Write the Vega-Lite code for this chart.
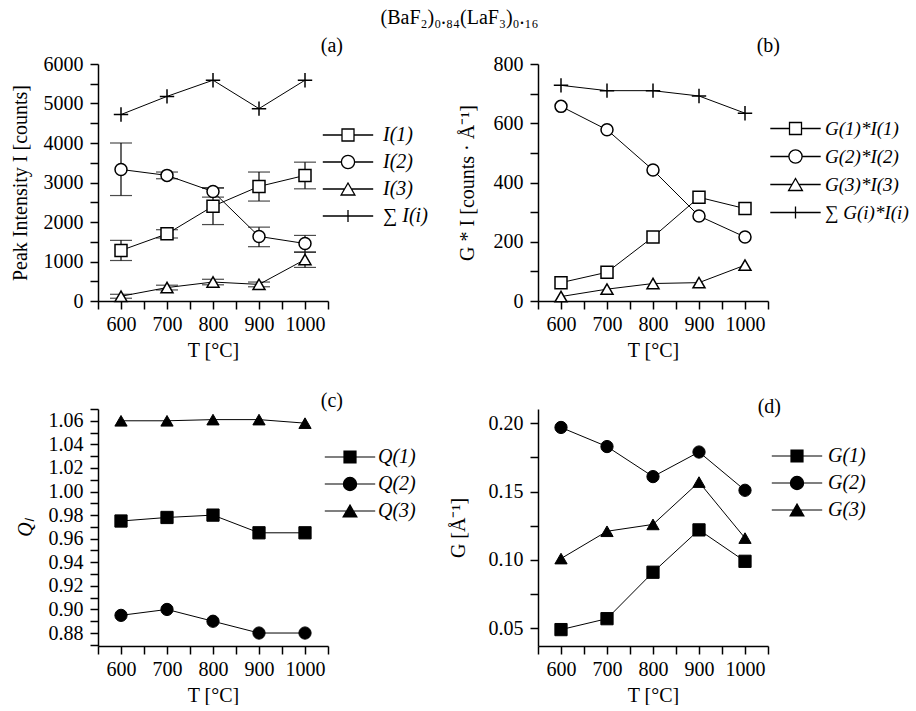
{
  "$schema": "https://vega.github.io/schema/vega-lite/v6.json",
  "background": "white",
  "padding": {"left": 10, "top": 8, "right": 0, "bottom": 0},
  "title": {"text": "(BaF₂)₀.₈₄(LaF₃)₀.₁₆", "anchor": "middle", "fontSize": 20, "offset": 8},
  "bounds": "flush",
  "columns": 2,
  "spacing": {"row": 108, "column": 210},
  "resolve": {"scale": {"x": "independent", "y": "independent", "shape": "independent"}, "legend": {"shape": "independent"}},
  "concat": [
    {
      "width": 230, "height": 237,
      "title": {"text": "(a)", "anchor": "end", "frame": "group", "dx": 15, "offset": -2},
      "data": {"values": [
        {"T": 600, "s": "I(1)", "v": 1280, "lo": 1025, "hi": 1535},
        {"T": 700, "s": "I(1)", "v": 1700, "lo": 1595, "hi": 1805},
        {"T": 800, "s": "I(1)", "v": 2400, "lo": 1935, "hi": 2865},
        {"T": 900, "s": "I(1)", "v": 2900, "lo": 2530, "hi": 3265},
        {"T": 1000, "s": "I(1)", "v": 3180, "lo": 2840, "hi": 3515},
        {"T": 600, "s": "I(2)", "v": 3330, "lo": 2670, "hi": 4000},
        {"T": 700, "s": "I(2)", "v": 3180, "lo": 3095, "hi": 3265},
        {"T": 800, "s": "I(2)", "v": 2770, "lo": 2630, "hi": 2860},
        {"T": 900, "s": "I(2)", "v": 1635, "lo": 1375, "hi": 1870},
        {"T": 1000, "s": "I(2)", "v": 1455, "lo": 1240, "hi": 1660},
        {"T": 600, "s": "I(3)", "v": 120, "lo": 70, "hi": 170},
        {"T": 700, "s": "I(3)", "v": 340, "lo": 280, "hi": 400},
        {"T": 800, "s": "I(3)", "v": 480, "lo": 410, "hi": 550},
        {"T": 900, "s": "I(3)", "v": 420, "lo": 360, "hi": 480},
        {"T": 1000, "s": "I(3)", "v": 1050, "lo": 850, "hi": 1235},
        {"T": 600, "s": "∑ I(i)", "v": 4720},
        {"T": 700, "s": "∑ I(i)", "v": 5180},
        {"T": 800, "s": "∑ I(i)", "v": 5590},
        {"T": 900, "s": "∑ I(i)", "v": 4870},
        {"T": 1000, "s": "∑ I(i)", "v": 5590}
      ]},
      "encoding": {
        "x": {"field": "T", "type": "quantitative", "scale": {"domain": [550, 1050], "nice": false, "zero": false},
              "axis": {"title": "T [°C]", "values": [550, 600, 650, 700, 750, 800, 850, 900, 950, 1000, 1050], "labelExpr": "datum.value % 100 == 0 ? datum.label : ''", "format": "d", "labelOverlap": false, "labelFlush": false}},
        "y": {"field": "v", "type": "quantitative", "title": "Peak Intensity I [counts]", "scale": {"domain": [0, 6000], "nice": false, "zero": false},
              "axis": {"values": [0, 500, 1000, 1500, 2000, 2500, 3000, 3500, 4000, 4500, 5000, 5500, 6000], "labelExpr": "datum.value % 1000 == 0 ? datum.label : ''", "format": "d", "labelOverlap": false, "labelPadding": 7, "titlePadding": 13}}
      },
      "resolve": {"scale": {"shape": "independent"}, "legend": {"shape": "independent"}},
      "layer": [
        {"mark": {"type": "line", "color": "black", "strokeWidth": 1}, "encoding": {"detail": {"field": "s"}}},
        {"transform": [{"filter": "isValid(datum.lo)"}], "mark": {"type": "rule", "color": "black", "strokeWidth": 1.2},
         "encoding": {"y": {"field": "lo", "type": "quantitative", "title": "Peak Intensity I [counts]"}, "y2": {"field": "hi"}}},
        {"transform": [{"filter": "isValid(datum.lo)"}], "mark": {"type": "tick", "orient": "horizontal", "color": "black", "thickness": 1.2, "size": 22},
         "encoding": {"y": {"field": "lo", "type": "quantitative", "title": "Peak Intensity I [counts]"}}},
        {"transform": [{"filter": "isValid(datum.lo)"}], "mark": {"type": "tick", "orient": "horizontal", "color": "black", "thickness": 1.2, "size": 22},
         "encoding": {"y": {"field": "hi", "type": "quantitative", "title": "Peak Intensity I [counts]"}}},
        {"mark": {"type": "point", "filled": true, "fill": "white", "stroke": "black", "strokeWidth": 1.5, "size": 144, "opacity": 1},
         "encoding": {"shape": {"field": "s", "type": "nominal",
           "scale": {"domain": ["I(1)", "I(2)", "I(3)", "∑ I(i)"], "range": ["square", "circle", "triangle-up", "M-1.2,0H1.2M0,-1.2V1.2"]},
           "legend": null}}},
        {"transform": [{"filter": "false"}],
         "mark": {"type": "point", "filled": true, "fill": "white", "stroke": "black", "strokeWidth": 1.3, "size": 144, "opacity": 1},
         "encoding": {"shape": {"field": "s", "type": "nominal",
           "scale": {"domain": ["I(1)", "I(2)", "I(3)", "∑ I(i)"], "range": ["M-4.2,0H-1M1,0H4.2M-1,-1H1V1H-1Z", "M-4.2,0H-1.1M1.1,0H4.2M-1.1,0A1.1,1.1,0,1,1,1.1,0A1.1,1.1,0,1,1,-1.1,0Z", "M-4.2,0H-0.6M0.6,0H4.2M0,-1L-1.15,1H1.15Z", "M-4.2,0H4.2M0,-1V1"]},
           "legend": {"title": null, "orient": "none", "legendX": 240, "legendY": 61, "labelOffset": 25, "rowPadding": 7, "symbolSize": 144, "symbolStrokeWidth": 1.3, "symbolOpacity": 1}}}}
      ]
    },
    {
      "width": 230, "height": 237,
      "title": {"text": "(b)", "anchor": "end", "frame": "group", "dx": 12, "offset": -2},
      "data": {"values": [
        {"T": 600, "s": "G(1)*I(1)", "v": 62},
        {"T": 700, "s": "G(1)*I(1)", "v": 97},
        {"T": 800, "s": "G(1)*I(1)", "v": 216},
        {"T": 900, "s": "G(1)*I(1)", "v": 350},
        {"T": 1000, "s": "G(1)*I(1)", "v": 312},
        {"T": 600, "s": "G(2)*I(2)", "v": 657},
        {"T": 700, "s": "G(2)*I(2)", "v": 578},
        {"T": 800, "s": "G(2)*I(2)", "v": 442},
        {"T": 900, "s": "G(2)*I(2)", "v": 287},
        {"T": 1000, "s": "G(2)*I(2)", "v": 216},
        {"T": 600, "s": "G(3)*I(3)", "v": 15},
        {"T": 700, "s": "G(3)*I(3)", "v": 40},
        {"T": 800, "s": "G(3)*I(3)", "v": 59},
        {"T": 900, "s": "G(3)*I(3)", "v": 62},
        {"T": 1000, "s": "G(3)*I(3)", "v": 121},
        {"T": 600, "s": "∑ G(i)*I(i)", "v": 728},
        {"T": 700, "s": "∑ G(i)*I(i)", "v": 710},
        {"T": 800, "s": "∑ G(i)*I(i)", "v": 710},
        {"T": 900, "s": "∑ G(i)*I(i)", "v": 692},
        {"T": 1000, "s": "∑ G(i)*I(i)", "v": 634}
      ]},
      "encoding": {
        "x": {"field": "T", "type": "quantitative", "scale": {"domain": [550, 1050], "nice": false, "zero": false},
              "axis": {"title": "T [°C]", "values": [550, 600, 650, 700, 750, 800, 850, 900, 950, 1000, 1050], "labelExpr": "datum.value % 100 == 0 ? datum.label : ''", "format": "d", "labelOverlap": false, "labelFlush": false}},
        "y": {"field": "v", "type": "quantitative", "title": "G * I  [counts · Å⁻¹]", "scale": {"domain": [0, 800], "nice": false, "zero": false},
              "axis": {"values": [0, 100, 200, 300, 400, 500, 600, 700, 800], "labelExpr": "datum.value % 200 == 0 ? datum.label : ''", "format": "d", "labelOverlap": false, "labelPadding": 7, "titlePadding": 16}}
      },
      "resolve": {"scale": {"shape": "independent"}, "legend": {"shape": "independent"}},
      "layer": [
        {"mark": {"type": "line", "color": "black", "strokeWidth": 1}, "encoding": {"detail": {"field": "s"}}},
        {"mark": {"type": "point", "filled": true, "fill": "white", "stroke": "black", "strokeWidth": 1.5, "size": 144, "opacity": 1},
         "encoding": {"shape": {"field": "s", "type": "nominal",
           "scale": {"domain": ["G(1)*I(1)", "G(2)*I(2)", "G(3)*I(3)", "∑ G(i)*I(i)"], "range": ["square", "circle", "triangle-up", "M-1.2,0H1.2M0,-1.2V1.2"]},
           "legend": null}}},
        {"transform": [{"filter": "false"}],
         "mark": {"type": "point", "filled": true, "fill": "white", "stroke": "black", "strokeWidth": 1.3, "size": 144, "opacity": 1},
         "encoding": {"shape": {"field": "s", "type": "nominal",
           "scale": {"domain": ["G(1)*I(1)", "G(2)*I(2)", "G(3)*I(3)", "∑ G(i)*I(i)"], "range": ["M-4.2,0H-1M1,0H4.2M-1,-1H1V1H-1Z", "M-4.2,0H-1.1M1.1,0H4.2M-1.1,0A1.1,1.1,0,1,1,1.1,0A1.1,1.1,0,1,1,-1.1,0Z", "M-4.2,0H-0.6M0.6,0H4.2M0,-1L-1.15,1H1.15Z", "M-4.2,0H4.2M0,-1V1"]},
           "legend": {"title": null, "orient": "none", "legendX": 248, "legendY": 55, "labelOffset": 20, "labelFontSize": 19, "rowPadding": 8, "symbolSize": 144, "symbolStrokeWidth": 1.3, "symbolOpacity": 1}}}}
      ]
    },
    {
      "width": 230, "height": 237,
      "title": {"text": "(c)", "anchor": "end", "frame": "group", "dx": 15, "offset": -12},
      "data": {"values": [
        {"T": 600, "s": "Q(1)", "v": 0.975},
        {"T": 700, "s": "Q(1)", "v": 0.978},
        {"T": 800, "s": "Q(1)", "v": 0.980},
        {"T": 900, "s": "Q(1)", "v": 0.965},
        {"T": 1000, "s": "Q(1)", "v": 0.965},
        {"T": 600, "s": "Q(2)", "v": 0.895},
        {"T": 700, "s": "Q(2)", "v": 0.900},
        {"T": 800, "s": "Q(2)", "v": 0.890},
        {"T": 900, "s": "Q(2)", "v": 0.880},
        {"T": 1000, "s": "Q(2)", "v": 0.880},
        {"T": 600, "s": "Q(3)", "v": 1.060},
        {"T": 700, "s": "Q(3)", "v": 1.060},
        {"T": 800, "s": "Q(3)", "v": 1.061},
        {"T": 900, "s": "Q(3)", "v": 1.061},
        {"T": 1000, "s": "Q(3)", "v": 1.058}
      ]},
      "encoding": {
        "x": {"field": "T", "type": "quantitative", "scale": {"domain": [550, 1050], "nice": false, "zero": false},
              "axis": {"title": "T [°C]", "values": [550, 600, 650, 700, 750, 800, 850, 900, 950, 1000, 1050], "labelExpr": "datum.value % 100 == 0 ? datum.label : ''", "format": "d", "labelOverlap": false, "labelFlush": false}},
        "y": {"field": "v", "type": "quantitative", "title": "Qₗ", "scale": {"domain": [0.869, 1.07], "nice": false, "zero": false},
              "axis": {"values": [0.87, 0.88, 0.89, 0.9, 0.91, 0.92, 0.93, 0.94, 0.95, 0.96, 0.97, 0.98, 0.99, 1.0, 1.01, 1.02, 1.03, 1.04, 1.05, 1.06, 1.07], "labelExpr": "round(datum.value * 100) % 2 == 0 ? format(datum.value, '.2f') : ''", "labelOverlap": false, "titleFontStyle": "italic", "labelPadding": 7, "titlePadding": 13}}
      },
      "resolve": {"scale": {"shape": "independent"}, "legend": {"shape": "independent"}},
      "layer": [
        {"mark": {"type": "line", "color": "black", "strokeWidth": 1}, "encoding": {"detail": {"field": "s"}}},
        {"mark": {"type": "point", "filled": true, "fill": "black", "stroke": "black", "strokeWidth": 1, "size": 150, "opacity": 1},
         "encoding": {"shape": {"field": "s", "type": "nominal",
           "scale": {"domain": ["Q(1)", "Q(2)", "Q(3)"], "range": ["square", "circle", "triangle-up"]},
           "legend": null}}},
        {"transform": [{"filter": "false"}],
         "mark": {"type": "point", "filled": true, "fill": "black", "stroke": "black", "strokeWidth": 1.2, "size": 144, "opacity": 1},
         "encoding": {"shape": {"field": "s", "type": "nominal",
           "scale": {"domain": ["Q(1)", "Q(2)", "Q(3)"], "range": ["M-4.2,0H-1M1,0H4.2M-1,-1H1V1H-1Z", "M-4.2,0H-1.1M1.1,0H4.2M-1.1,0A1.1,1.1,0,1,1,1.1,0A1.1,1.1,0,1,1,-1.1,0Z", "M-4.2,0H-0.6M0.6,0H4.2M0,-1L-1.15,1H1.15Z"]},
           "legend": {"title": null, "orient": "none", "legendX": 242, "legendY": 38, "labelOffset": 18, "rowPadding": 7, "symbolSize": 144, "symbolStrokeWidth": 1.2, "symbolOpacity": 1}}}}
      ]
    },
    {
      "width": 230, "height": 237,
      "title": {"text": "(d)", "anchor": "end", "frame": "group", "dx": 13, "offset": -8},
      "data": {"values": [
        {"T": 600, "s": "G(1)", "v": 0.049},
        {"T": 700, "s": "G(1)", "v": 0.057},
        {"T": 800, "s": "G(1)", "v": 0.091},
        {"T": 900, "s": "G(1)", "v": 0.122},
        {"T": 1000, "s": "G(1)", "v": 0.099},
        {"T": 600, "s": "G(2)", "v": 0.197},
        {"T": 700, "s": "G(2)", "v": 0.183},
        {"T": 800, "s": "G(2)", "v": 0.161},
        {"T": 900, "s": "G(2)", "v": 0.179},
        {"T": 1000, "s": "G(2)", "v": 0.151},
        {"T": 600, "s": "G(3)", "v": 0.101},
        {"T": 700, "s": "G(3)", "v": 0.121},
        {"T": 800, "s": "G(3)", "v": 0.126},
        {"T": 900, "s": "G(3)", "v": 0.157},
        {"T": 1000, "s": "G(3)", "v": 0.116}
      ]},
      "encoding": {
        "x": {"field": "T", "type": "quantitative", "scale": {"domain": [550, 1050], "nice": false, "zero": false},
              "axis": {"title": "T [°C]", "values": [550, 600, 650, 700, 750, 800, 850, 900, 950, 1000, 1050], "labelExpr": "datum.value % 100 == 0 ? datum.label : ''", "format": "d", "labelOverlap": false, "labelFlush": false}},
        "y": {"field": "v", "type": "quantitative", "title": "G [Å⁻¹]", "scale": {"domain": [0.037, 0.2105], "nice": false, "zero": false},
              "axis": {"values": [0.05, 0.075, 0.1, 0.125, 0.15, 0.175, 0.2], "labelExpr": "round(datum.value * 1000) % 50 == 0 ? format(datum.value, '.2f') : ''", "labelOverlap": false, "labelPadding": 7, "titlePadding": 20}}
      },
      "resolve": {"scale": {"shape": "independent"}, "legend": {"shape": "independent"}},
      "layer": [
        {"mark": {"type": "line", "color": "black", "strokeWidth": 1}, "encoding": {"detail": {"field": "s"}}},
        {"mark": {"type": "point", "filled": true, "fill": "black", "stroke": "black", "strokeWidth": 1, "size": 150, "opacity": 1},
         "encoding": {"shape": {"field": "s", "type": "nominal",
           "scale": {"domain": ["G(1)", "G(2)", "G(3)"], "range": ["square", "circle", "triangle-up"]},
           "legend": null}}},
        {"transform": [{"filter": "false"}],
         "mark": {"type": "point", "filled": true, "fill": "black", "stroke": "black", "strokeWidth": 1.2, "size": 144, "opacity": 1},
         "encoding": {"shape": {"field": "s", "type": "nominal",
           "scale": {"domain": ["G(1)", "G(2)", "G(3)"], "range": ["M-4.2,0H-1M1,0H4.2M-1,-1H1V1H-1Z", "M-4.2,0H-1.1M1.1,0H4.2M-1.1,0A1.1,1.1,0,1,1,1.1,0A1.1,1.1,0,1,1,-1.1,0Z", "M-4.2,0H-0.6M0.6,0H4.2M0,-1L-1.15,1H1.15Z"]},
           "legend": {"title": null, "orient": "none", "legendX": 249, "legendY": 37, "labelOffset": 21, "rowPadding": 7, "symbolSize": 144, "symbolStrokeWidth": 1.2, "symbolOpacity": 1}}}}
      ]
    }
  ],
  "config": {
    "font": "Liberation Serif",
    "view": {"stroke": null},
    "axis": {"labelFont": "Liberation Serif", "labelFontSize": 20, "labelColor": "black", "titleFont": "Liberation Serif", "titleFontSize": 20, "titleFontWeight": "normal", "titleColor": "black", "domainColor": "black", "domainWidth": 1.5, "tickColor": "black", "tickWidth": 1.5, "tickSize": 8, "grid": false, "labelPadding": 5, "titlePadding": 6},
    "legend": {"labelFont": "Liberation Serif", "labelFontSize": 20, "labelFontStyle": "italic", "labelColor": "black"},
    "title": {"font": "Liberation Serif", "fontWeight": "normal", "color": "black", "fontSize": 20}
  }
}
